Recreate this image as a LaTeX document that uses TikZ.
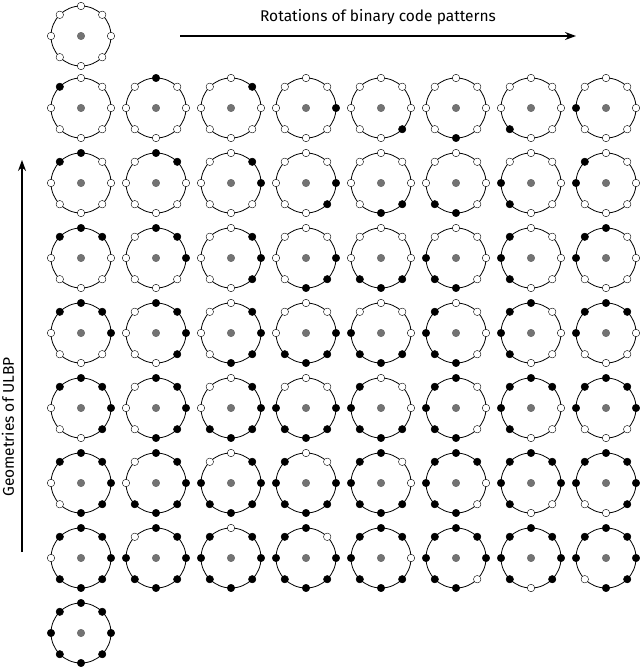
\documentclass[tikz,border=0pt]{standalone}
\usepackage{fontspec}
\setmainfont{Fira Sans}
\usetikzlibrary{calc,arrows.meta}
\begin{document}
\begin{tikzpicture}[x=1pt,y=1pt,
  ring/.style={draw,line width=0.8pt},
  bdot/.style={circle,draw,fill=black,inner sep=0pt,minimum size=7.5pt,line width=0.4pt},
  wdot/.style={circle,draw,fill=white,inner sep=0pt,minimum size=7.5pt,line width=0.4pt},
  cdot/.style={circle,draw=black!60,fill=black!55,inner sep=0pt,minimum size=7.5pt},
  lbl/.style={font=\fontsize{15.5}{18}\selectfont},
  arr/.style={-{Stealth[length=11pt,width=8pt]},line width=1.2pt}]
\useasboundingbox (0,0) rectangle (640,-669);
\newcommand{\lbppat}[5]{%
  \draw[ring] (#1,-#2) circle (30);
  \node[cdot] (#5c) at (#1,-#2) {};
  \foreach \i in {0,...,7}{%
    \pgfmathtruncatemacro{\rel}{mod(\i-#4+8,8)}%
    \pgfmathsetmacro{\ang}{135-45*\i}%
    \ifnum\rel<#3\relax
      \node[bdot] (#5n\i) at ($(#1,-#2)+(\ang:30)$) {};
    \else
      \node[wdot] (#5n\i) at ($(#1,-#2)+(\ang:30)$) {};
    \fi}}
\lbppat{81}{36}{0}{0}{top}
\foreach \r in {1,...,7}{
  \foreach \c in {0,...,7}{
    \pgfmathsetmacro{\px}{81+75*\c}
    \pgfmathsetmacro{\py}{108+75*(\r-1)}
    \lbppat{\px}{\py}{\r}{\c}{p\r\c}
  }}
\lbppat{81}{633}{8}{0}{bot}
\coordinate (ha) at (180,-36);
\coordinate (hb) at (576,-36);
\draw[arr] (ha) -- (hb);
\node[lbl] (ht) at (378,-17) {Rotations of binary code patterns};
\coordinate (va) at (22,-552);
\coordinate (vb) at (22,-160);
\draw[arr] (va) -- (vb);
\node[lbl,rotate=90] (vt) at (8,-427) {Geometries of ULBP};
\end{tikzpicture}
\end{document}
